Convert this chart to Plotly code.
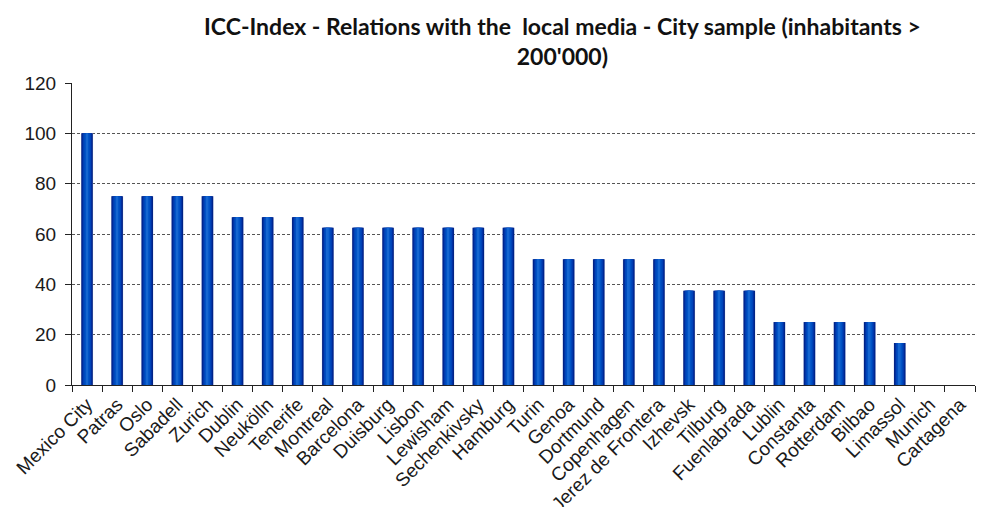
import plotly.graph_objects as go

cities = ["Mexico City", "Patras", "Oslo", "Sabadell", "Zurich", "Dublin", "Neukölln",
          "Tenerife", "Montreal", "Barcelona", "Duisburg", "Lisbon", "Lewisham",
          "Sechenkivsky", "Hamburg", "Turin", "Genoa", "Dortmund", "Copenhagen",
          "Jerez de Frontera", "Izhevsk", "Tilburg", "Fuenlabrada", "Lublin", "Constanta",
          "Rotterdam", "Bilbao", "Limassol", "Munich", "Cartagena"]
scores = [100, 75, 75, 75, 75, 66.7, 66.7, 66.7, 62.5, 62.5, 62.5, 62.5, 62.5,
          62.5, 62.5, 50, 50, 50, 50, 50, 37.5, 37.5, 37.5, 25, 25, 25, 25, 16.7, 0, 0]
y_ticks = [0, 20, 40, 60, 80, 100, 120]
title_text = ("<b>ICC-Index - Relations with the  local media - City sample (inhabitants ></b><br>"
              "<b>200'000)</b>")

fig = go.Figure()

# Layered bars of shrinking width give each column a shaded, cylinder-like look
shading = [
    (0.40, "#b4c0e6"),
    (0.38, "#001f7a"),
    (0.33, "#002c9e"),
    (0.26, "#0044b8"),
    (0.16, "#0054c6"),
    (0.06, "#1566d0"),
]
for w, c in shading:
    fig.add_trace(go.Bar(
        x=cities, y=scores, width=w, marker=dict(color=c, line=dict(width=0)),
        hoverinfo="x+y", showlegend=False,
    ))

fig.add_annotation(
    text=title_text, xref="paper", yref="paper", x=0.543, y=1.139,
    xanchor="center", yanchor="middle", showarrow=False, align="center",
    font=dict(family="Lato, sans-serif", size=23, color="#111"),
)

fig.update_layout(
    barmode="overlay",
    width=981, height=507,
    margin=dict(l=72, r=6, t=83, b=122),
    paper_bgcolor="white", plot_bgcolor="white",
    font=dict(family="Liberation Sans, Arial, sans-serif", size=19, color="#1a1a1a"),
    xaxis=dict(
        tickangle=-45, tickson="boundaries", ticks="outside", ticklen=6,
        tickcolor="#222", showline=True, linecolor="#222", linewidth=1,
        showgrid=False, tickfont=dict(size=19), automargin=False,
    ),
    yaxis=dict(
        range=[0, 120], tickvals=y_ticks, ticks="outside", ticklen=6,
        tickcolor="#222", showline=True, linecolor="#222", linewidth=1,
        showgrid=True, gridcolor="#555", griddash="3px,2px", gridwidth=1,
        zeroline=False, ticklabelstandoff=5, tickfont=dict(size=19),
        automargin=False,
    ),
)

fig.write_html("out.html")
